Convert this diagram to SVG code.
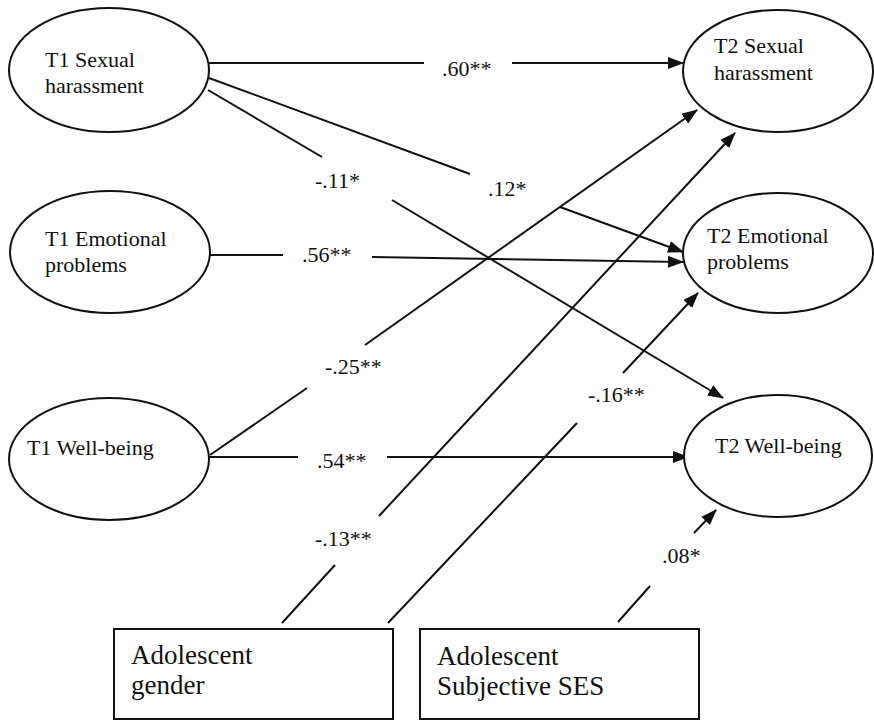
<svg xmlns="http://www.w3.org/2000/svg" width="874" height="720" viewBox="0 0 874 720">
<defs>
<style>
.node ellipse, .node rect { fill: #fff; stroke: #111; stroke-width: 2; }
text { font-family: 'Liberation Serif', 'DejaVu Serif', 'Times New Roman', serif; fill: #111; }
.lbl { font-size: 22px; }
.box { font-size: 27px; }
.edge { fill: none; stroke: #111; stroke-width: 2; }
.arr { marker-end: url(#ah); }
</style>
<marker id="ah" markerUnits="userSpaceOnUse" markerWidth="16" markerHeight="12" viewBox="0 0 16 12" refX="15" refY="6" orient="auto">
<path d="M0,0 L16,6 L0,12 Z" fill="#111"/>
</marker>
</defs>
<rect width="874" height="720" fill="#fff"/>

<g id="connectors">
<path class="edge" d="M209,63 L424,63"/>
<path class="edge arr" d="M512,63 L683,63"/>
<path class="edge" d="M209,78 L470,174"/>
<path class="edge arr" d="M560,207 L683,252"/>
<path class="edge" d="M208,90 L322,157"/>
<path class="edge arr" d="M392,200 L723,398"/>
<path class="edge" d="M210,255 L283,255"/>
<path class="edge arr" d="M372,257 L683,262"/>
<path class="edge" d="M210,455 L307,388"/>
<path class="edge arr" d="M365,345 L697,110"/>
<path class="edge" d="M209,457 L298,457"/>
<path class="edge arr" d="M387,457 L688,457"/>
<path class="edge" d="M282,623 L335,565"/>
<path class="edge arr" d="M379,516 L735,133"/>
<path class="edge" d="M388,623 L577,423"/>
<path class="edge arr" d="M623,373 L698,293"/>
<path class="edge" d="M618,622 L650,586"/>
<path class="edge arr" d="M694,533 L716,510"/>
<text class="lbl" x="442" y="76" font-family="Liberation Serif, serif">.60**</text>
<text class="lbl" x="488" y="196" font-family="Liberation Serif, serif">.12*</text>
<text class="lbl" x="315" y="188" font-family="Liberation Serif, serif">-.11*</text>
<text class="lbl" x="302" y="262" font-family="Liberation Serif, serif">.56**</text>
<text class="lbl" x="325" y="374" font-family="Liberation Serif, serif">-.25**</text>
<text class="lbl" x="317" y="468" font-family="Liberation Serif, serif">.54**</text>
<text class="lbl" x="315" y="546" font-family="Liberation Serif, serif">-.13**</text>
<text class="lbl" x="588" y="402" font-family="Liberation Serif, serif">-.16**</text>
<text class="lbl" x="662" y="563" font-family="Liberation Serif, serif">.08*</text>
</g>

<g id="t1-sexual-harassment" class="node">
<ellipse cx="109" cy="70" rx="100" ry="62"/>
<text class="lbl" x="45" y="67">T1 Sexual</text>
<text class="lbl" x="45" y="93">harassment</text>
</g>
<g id="t1-emotional-problems" class="node">
<ellipse cx="110" cy="252" rx="100" ry="61"/>
<text class="lbl" x="45" y="246">T1 Emotional</text>
<text class="lbl" x="45" y="272">problems</text>
</g>
<g id="t1-well-being" class="node">
<ellipse cx="109" cy="459" rx="100" ry="61"/>
<text class="lbl" x="27" y="455">T1 Well-being</text>
</g>
<g id="t2-sexual-harassment" class="node">
<ellipse cx="778" cy="71" rx="95" ry="61"/>
<text class="lbl" x="714" y="53">T2 Sexual</text>
<text class="lbl" x="714" y="80">harassment</text>
</g>
<g id="t2-emotional-problems" class="node">
<ellipse cx="778" cy="253" rx="95" ry="60"/>
<text class="lbl" x="707" y="243">T2 Emotional</text>
<text class="lbl" x="707" y="269">problems</text>
</g>
<g id="t2-well-being" class="node">
<ellipse cx="778" cy="456" rx="94" ry="61"/>
<text class="lbl" x="715" y="453">T2 Well-being</text>
</g>
<g id="adolescent-gender" class="node">
<rect x="114" y="629" width="279" height="90"/>
<text class="box" x="131" y="664">Adolescent</text>
<text class="box" x="131" y="694">gender</text>
</g>
<g id="adolescent-ses" class="node">
<rect x="420" y="629" width="279" height="90"/>
<text class="box" x="437" y="665">Adolescent</text>
<text class="box" x="437" y="695">Subjective SES</text>
</g>
</svg>
